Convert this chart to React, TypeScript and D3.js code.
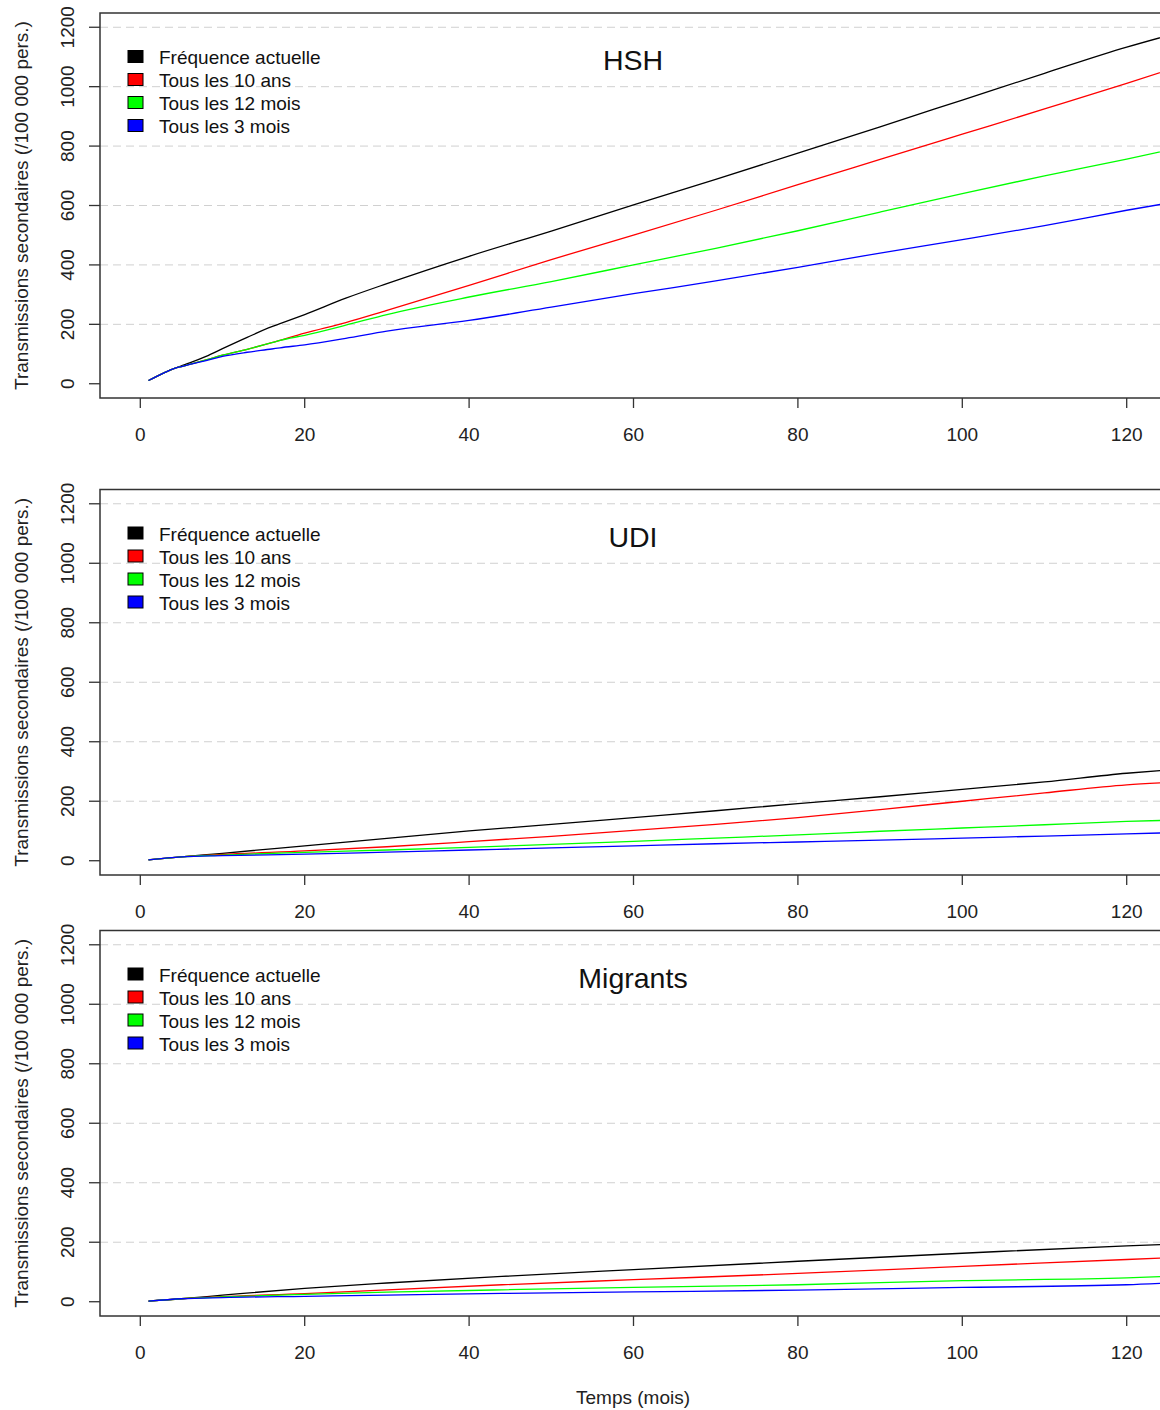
import React from 'react';
import * as d3 from 'd3';

// ---------- DATA ----------
const seriesNames = ['Fréquence actuelle', 'Tous les 10 ans', 'Tous les 12 mois', 'Tous les 3 mois'];
const seriesColors = ['#000000', '#FF0000', '#00FF00', '#0000FF'];

const monthsHSH = [1, 2, 3, 4, 5, 6, 8, 10, 13, 16, 17, 20, 25, 30, 40, 50, 60, 70, 80, 90, 100, 110, 120, 125];
const hshActuelle = [11, 25, 38, 50, 60, 70, 92, 118, 156, 192, 202, 233, 288, 337, 429, 514, 602, 688, 776, 865, 955, 1045, 1133, 1172];
const hsh10ans = [11, 25, 38, 50, 58, 65, 80, 96, 116, 138, 146, 170, 206, 247, 331, 418, 500, 584, 670, 755, 840, 925, 1011, 1056];
const hsh12mois = [11, 25, 38, 50, 58, 65, 80, 96, 116, 138, 146, 163, 197, 233, 292, 344, 400, 456, 515, 578, 640, 700, 756, 786];
const hsh3mois = [11, 25, 38, 50, 58, 65, 78, 92, 106, 117, 121, 131, 153, 177, 213, 258, 303, 346, 392, 440, 485, 532, 584, 608];

const monthsUDI = [1, 5, 10, 20, 30, 40, 50, 60, 70, 80, 90, 100, 110, 120, 125];
const udiActuelle = [3, 13, 25, 50, 75, 100, 122, 145, 168, 192, 215, 240, 265, 294, 305];
const udi10ans = [3, 13, 21, 33, 47, 64, 82, 102, 122, 145, 172, 200, 228, 255, 263];
const udi12mois = [3, 13, 19, 28, 36, 45, 55, 65, 76, 87, 99, 110, 121, 132, 136];
const udi3mois = [3, 13, 17, 22, 29, 36, 43, 50, 57, 63, 69, 76, 83, 90, 94];

const monthsMig = [1, 5, 10, 20, 30, 44, 60, 80, 100, 120, 125];
const migActuelle = [2, 10, 22, 45, 63, 85, 108, 136, 163, 188, 193];
const mig10ans = [2, 10, 17, 27, 40, 57, 74, 95, 119, 142, 148];
const mig12mois = [2, 10, 16, 25, 32, 40, 48, 57, 71, 80, 85];
const mig3mois = [2, 10, 14, 18, 22, 28, 33, 39, 48, 57, 63];

const xTicks = [0, 20, 40, 60, 80, 100, 120];
const yTicks = [0, 200, 400, 600, 800, 1000, 1200];
const gridValues = [200, 400, 600, 800, 1000, 1200];

const panels = [
  { title: 'HSH', months: monthsHSH, series: [hshActuelle, hsh10ans, hsh12mois, hsh3mois], top: 13, bottom: 398 },
  { title: 'UDI', months: monthsUDI, series: [udiActuelle, udi10ans, udi12mois, udi3mois], top: 489.5, bottom: 875 },
  { title: 'Migrants', months: monthsMig, series: [migActuelle, mig10ans, mig12mois, mig3mois], top: 930.5, bottom: 1316 },
];

const FONT = '"Liberation Sans", Arial, Helvetica, sans-serif';
const W = 1160;
const H = 1410;
const boxLeft = 100;
const boxRight = 1200;

const x = d3.scaleLinear().domain([0, 120]).range([140.3, 1126.7]);

function Panel({ p, idx }: { p: any; idx: number }) {
  const y = d3.scaleLinear().domain([-48, 1248]).range([p.bottom, p.top]);
  const clipId = `clip-${idx}`;
  const lines = p.series.map((vals: number[]) =>
    d3.line<number>()
      .x((_, i) => x(p.months[i]))
      .y((v) => y(v))
      .curve(d3.curveMonotoneX)(vals) as string
  );
  return (
    <g>
      <defs>
        <clipPath id={clipId}>
          <rect x={boxLeft} y={p.top} width={boxRight - boxLeft} height={p.bottom - p.top} />
        </clipPath>
      </defs>
      {gridValues.map((g) => (
        <line key={g} x1={boxLeft} x2={W} y1={y(g)} y2={y(g)} stroke="#d0d0d0" strokeWidth={1} strokeDasharray="8,5" />
      ))}
      <g clipPath={`url(#${clipId})`}>
        {lines.map((d: string, i: number) => (
          <path key={i} d={d} fill="none" stroke={seriesColors[i]} strokeWidth={1.3} strokeLinejoin="round" />
        ))}
      </g>
      <rect x={boxLeft} y={p.top} width={boxRight - boxLeft} height={p.bottom - p.top} fill="none" stroke="#333" strokeWidth={1.5} />
      {yTicks.map((t) => (
        <g key={t}>
          <line x1={89} x2={boxLeft} y1={y(t)} y2={y(t)} stroke="#333" strokeWidth={1.3} />
          <text
            x={74}
            y={y(t)}
            transform={`rotate(-90, 74, ${y(t)})`}
            textAnchor="middle"
            fontFamily={FONT}
            fontSize={19}
            fill="#222"
          >
            {t}
          </text>
        </g>
      ))}
      {xTicks.map((t) => (
        <g key={t}>
          <line x1={x(t)} x2={x(t)} y1={p.bottom} y2={p.bottom + 10} stroke="#333" strokeWidth={1.3} />
          <text x={x(t)} y={p.bottom + 43} textAnchor="middle" fontFamily={FONT} fontSize={19} fill="#222">
            {t}
          </text>
        </g>
      ))}
      <text
        x={28}
        y={(p.top + p.bottom) / 2}
        transform={`rotate(-90, 28, ${(p.top + p.bottom) / 2})`}
        textAnchor="middle"
        fontFamily={FONT}
        fontSize={19}
        fill="#222"
      >
        Transmissions secondaires (/100 000 pers.)
      </text>
      <text x={633} y={p.top + 57} textAnchor="middle" fontFamily={FONT} fontSize={28.5} fill="#111">
        {p.title}
      </text>
      {seriesNames.map((n, i) => {
        const cy = p.top + 43.5 + i * 23;
        return (
          <g key={n}>
            <rect x={128} y={cy - 6} width={15} height={12} fill={seriesColors[i]} stroke="#000" strokeWidth={1} />
            <text x={159} y={cy + 7.5} fontFamily={FONT} fontSize={19} fill="#111">
              {n}
            </text>
          </g>
        );
      })}
    </g>
  );
}

export default function App() {
  return (
    <div style={{ position: 'absolute', left: 0, top: 0 }}>
      <svg width={W} height={H} viewBox={`0 0 ${W} ${H}`} style={{ display: 'block', background: '#fff' }}>
        <rect x={0} y={0} width={W} height={H} fill="#fff" />
        {panels.map((p, i) => (
          <Panel key={p.title} p={p} idx={i} />
        ))}
        <text x={633} y={1404} textAnchor="middle" fontFamily={FONT} fontSize={19} fill="#222">
          Temps (mois)
        </text>
      </svg>
    </div>
  );
}
